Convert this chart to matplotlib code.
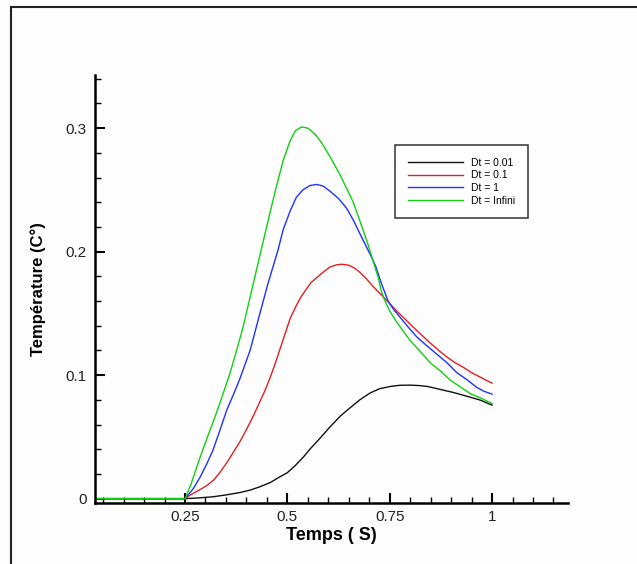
import numpy as np
import matplotlib.pyplot as plt
from matplotlib.lines import Line2D
from matplotlib.ticker import MultipleLocator

plt.rcParams['font.family'] = ['Liberation Sans', 'DejaVu Sans']

# Dt = 0.01
t_001 = [0.0, 0.25, 0.28, 0.318, 0.35, 0.385, 0.41, 0.433, 0.458, 0.482, 0.50, 0.52, 0.54,
         0.555, 0.58, 0.604, 0.63, 0.653, 0.677, 0.702, 0.725, 0.751, 0.775, 0.80, 0.82,
         0.841, 0.86, 0.88, 0.905, 0.929, 0.95, 0.971, 1.0]
T_001 = [0.0, 0.0, 0.0005, 0.0015, 0.003, 0.005, 0.007, 0.0096, 0.013, 0.0177, 0.021, 0.027,
         0.034, 0.040, 0.049, 0.058, 0.067, 0.0735, 0.080, 0.0855, 0.089, 0.0908, 0.0918,
         0.0919, 0.0916, 0.0909, 0.0895, 0.0879, 0.086, 0.0838, 0.0818, 0.0798, 0.0757]

# Dt = 0.1
t_01 = [0.0, 0.25, 0.262, 0.28, 0.303, 0.32, 0.336, 0.352, 0.367, 0.384, 0.401, 0.417,
        0.433, 0.446, 0.458, 0.47, 0.482, 0.495, 0.507, 0.52, 0.531, 0.545, 0.558, 0.572,
        0.59, 0.604, 0.62, 0.633, 0.65, 0.665, 0.678, 0.693, 0.709, 0.722, 0.734, 0.75,
        0.767, 0.787, 0.807, 0.828, 0.849, 0.87, 0.89, 0.91, 0.929, 0.95, 0.971, 0.985, 1.0]
T_01 = [0.0, 0.0, 0.0028, 0.006, 0.0105, 0.015, 0.0215, 0.029, 0.037, 0.046, 0.0565, 0.067,
        0.0785, 0.088, 0.098, 0.109, 0.121, 0.134, 0.146, 0.155, 0.162, 0.169, 0.175, 0.179,
        0.184, 0.1875, 0.1893, 0.1898, 0.189, 0.1865, 0.183, 0.178, 0.172, 0.1675, 0.1635,
        0.158, 0.152, 0.1455, 0.139, 0.1325, 0.126, 0.120, 0.1146, 0.110, 0.1065, 0.102,
        0.0984, 0.096, 0.0935]

# Dt = 1
t_1 = [0.0, 0.25, 0.254, 0.27, 0.287, 0.303, 0.318, 0.335, 0.352, 0.368, 0.384, 0.409,
       0.433, 0.453, 0.477, 0.49, 0.507, 0.522, 0.538, 0.555, 0.572, 0.588, 0.604, 0.625,
       0.645, 0.662, 0.678, 0.702, 0.716, 0.73, 0.746, 0.76, 0.775, 0.795, 0.816, 0.84,
       0.865, 0.89, 0.914, 0.94, 0.963, 0.98, 1.0]
T_1 = [0.0, 0.0, 0.0015, 0.008, 0.0174, 0.028, 0.039, 0.055, 0.0717, 0.084, 0.097, 0.120,
       0.150, 0.1745, 0.201, 0.218, 0.233, 0.244, 0.250, 0.2535, 0.2544, 0.253, 0.249,
       0.243, 0.235, 0.225, 0.214, 0.198, 0.188, 0.174, 0.160, 0.153, 0.147, 0.139, 0.131,
       0.124, 0.117, 0.110, 0.102, 0.096, 0.090, 0.087, 0.0846]

# Dt = Infini
t_inf = [0.0, 0.2505, 0.265, 0.287, 0.305, 0.323, 0.34, 0.36, 0.376, 0.392, 0.416, 0.438,
         0.458, 0.475, 0.49, 0.507, 0.52, 0.535, 0.55, 0.568, 0.584, 0.604, 0.629, 0.661,
         0.694, 0.708, 0.722, 0.73, 0.74, 0.75, 0.765, 0.78, 0.80, 0.825, 0.849, 0.875,
         0.898, 0.92, 0.947, 0.975, 1.0]
T_inf = [0.0, 0.0, 0.012, 0.0336, 0.050, 0.066, 0.082, 0.1016, 0.120, 0.139, 0.173, 0.204,
         0.232, 0.255, 0.274, 0.290, 0.298, 0.301, 0.300, 0.295, 0.288, 0.277, 0.262, 0.240,
         0.209, 0.194, 0.179, 0.1675, 0.159, 0.152, 0.144, 0.137, 0.128, 0.119, 0.110, 0.103,
         0.096, 0.091, 0.085, 0.081, 0.077]

labels = ['Dt = 0.01', 'Dt = 0.1', 'Dt = 1', 'Dt = Infini']
colors = ['#111111', '#e02020', '#2030ff', '#10d010']

fig = plt.figure(figsize=(6.37, 5.64), dpi=100)
fig.patch.set_facecolor('#fdfdfd')
ax = fig.add_axes([0.149, 0.108, 0.743, 0.759])
ax.set_facecolor('#fdfdfd')

for t, T, lab, c in zip([t_001, t_01, t_1, t_inf], [T_001, T_01, T_1, T_inf], labels, colors):
    ax.plot(t, T, color=c, lw=1.0, label=lab)

ax.set_xlim(0.03, 1.186)
ax.set_ylim(-0.0036, 0.343)

ax.set_xticks([0.25, 0.5, 0.75, 1.0])
ax.set_xticklabels(['0.25', '0.5', '0.75', '1'])
ax.set_yticks([0, 0.1, 0.2, 0.3])
ax.set_yticklabels(['0', '0.1', '0.2', '0.3'])
ax.xaxis.set_minor_locator(MultipleLocator(0.05))
ax.yaxis.set_minor_locator(MultipleLocator(0.02))

ax.tick_params(which='major', direction='in', length=7, width=1.5, labelsize=11,
               labelcolor='#222222', pad=6)
ax.tick_params(which='minor', direction='in', length=4.5, width=1.0)
ax.tick_params(axis='x', which='major', pad=5)

for s in ['top', 'right']:
    ax.spines[s].set_visible(False)
for s in ['left', 'bottom']:
    ax.spines[s].set_linewidth(1.8)

ax.set_xlabel('Temps ( S)', fontsize=13, fontweight='bold', labelpad=2)
ax.set_ylabel('Température (C°)', fontsize=12, fontweight='bold', labelpad=14)

leg = ax.legend(loc='upper left', bbox_to_anchor=(0.624, 0.848), fontsize=7.5,
                handlelength=5.3, handletextpad=0.8, labelspacing=0.25,
                borderpad=1.2, fancybox=False, framealpha=1, edgecolor='#333333')
leg.get_frame().set_linewidth(1.1)

# outer frame (left and top edges)
fig.add_artist(Line2D([0.018, 0.018], [0.0, 0.987], transform=fig.transFigure,
                      color='#222222', lw=1.5))
fig.add_artist(Line2D([0.018, 1.0], [0.987, 0.987], transform=fig.transFigure,
                      color='#222222', lw=1.5))

plt.savefig('out.png', dpi=100, facecolor=fig.get_facecolor())
